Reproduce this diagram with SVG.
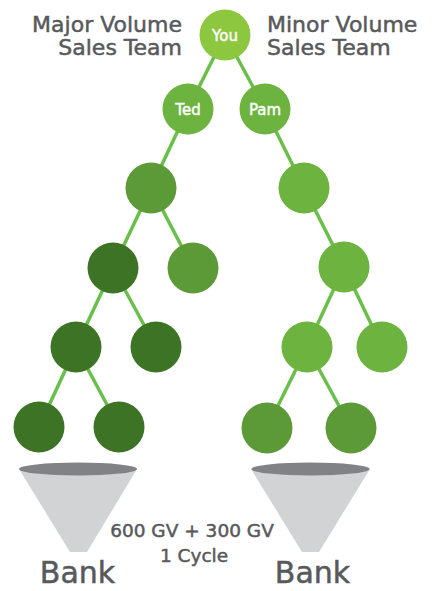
<svg xmlns="http://www.w3.org/2000/svg" width="433" height="591" viewBox="0 0 433 591">
<style>
.lbl{font-family:"DejaVu Sans","Liberation Sans",sans-serif;fill:#58595b;stroke:#58595b;stroke-width:0.5}
.nt{font-family:"DejaVu Sans","Liberation Sans",sans-serif;fill:#fff;stroke:#fff;stroke-width:0.45;font-size:15px;text-anchor:middle}
.edge{stroke:#6abf4b;stroke-width:3.5;fill:none}
.c0{fill:#8dc63f}.c1{fill:#6db33f}.c2{fill:#5c9937}.c3{fill:#3d7325}
.cone{fill:#d1d3d4}.rim{fill:#808285}
</style>
<rect width="433" height="591" fill="#fff"/>
<g id="headers">
<text class="lbl" x="182" y="32" font-size="22" text-anchor="end">Major Volume</text>
<text class="lbl" x="182" y="55" font-size="22" text-anchor="end">Sales Team</text>
<text class="lbl" x="267" y="32" font-size="22">Minor Volume</text>
<text class="lbl" x="267" y="55" font-size="22">Sales Team</text>
</g>
<g id="connectors">
<line class="edge" x1="225" y1="35" x2="188" y2="109"/>
<line class="edge" x1="225" y1="35" x2="265" y2="109"/>
<line class="edge" x1="188" y1="109" x2="151" y2="188"/>
<line class="edge" x1="265" y1="109" x2="304" y2="188"/>
<line class="edge" x1="151" y1="188" x2="113" y2="268"/>
<line class="edge" x1="151" y1="188" x2="193" y2="268"/>
<line class="edge" x1="304" y1="188" x2="344" y2="267"/>
<line class="edge" x1="113" y1="268" x2="76" y2="347"/>
<line class="edge" x1="113" y1="268" x2="156" y2="347"/>
<line class="edge" x1="344" y1="267" x2="307" y2="347"/>
<line class="edge" x1="344" y1="267" x2="382" y2="347"/>
<line class="edge" x1="76" y1="347" x2="39" y2="427"/>
<line class="edge" x1="76" y1="347" x2="119" y2="427"/>
<line class="edge" x1="307" y1="347" x2="267" y2="428"/>
<line class="edge" x1="307" y1="347" x2="351" y2="428"/>
</g>
<g id="n-you"><circle class="c0" cx="225" cy="35" r="25.5"/><text class="nt" x="225" y="40.5">You</text></g>
<g id="n-ted"><circle class="c1" cx="188" cy="109" r="25.5"/><text class="nt" x="188" y="114.5">Ted</text></g>
<g id="n-pam"><circle class="c1" cx="265" cy="109" r="25.5"/><text class="nt" x="265" y="114.5">Pam</text></g>
<g id="n-l3a"><circle class="c2" cx="151" cy="188" r="25.5"/></g>
<g id="n-r3a"><circle class="c1" cx="304" cy="188" r="25.5"/></g>
<g id="n-l4a"><circle class="c3" cx="113" cy="268" r="25.5"/></g>
<g id="n-l4b"><circle class="c2" cx="193" cy="268" r="25.5"/></g>
<g id="n-r4a"><circle class="c1" cx="344" cy="267" r="25.5"/></g>
<g id="n-l5a"><circle class="c3" cx="76" cy="347" r="25.5"/></g>
<g id="n-l5b"><circle class="c3" cx="156" cy="347" r="25.5"/></g>
<g id="n-r5a"><circle class="c1" cx="307" cy="347" r="25.5"/></g>
<g id="n-r5b"><circle class="c1" cx="382" cy="347" r="25.5"/></g>
<g id="n-l6a"><circle class="c3" cx="39" cy="427" r="25.5"/></g>
<g id="n-l6b"><circle class="c3" cx="119" cy="427" r="25.5"/></g>
<g id="n-r6a"><circle class="c2" cx="267" cy="428" r="25.5"/></g>
<g id="n-r6b"><circle class="c2" cx="351" cy="428" r="25.5"/></g>
<g id="bank-left">
<polygon class="cone" points="19,469 137,469 87,552 70,552"/>
<ellipse class="rim" cx="78" cy="469" rx="59" ry="6.5"/>
<text class="lbl" x="77.5" y="583" font-size="30" text-anchor="middle">Bank</text>
</g>
<g id="bank-right">
<polygon class="cone" points="251,469 370,469 319,552 302,552"/>
<ellipse class="rim" cx="310.5" cy="469" rx="59" ry="6.5"/>
<text class="lbl" x="312.5" y="583" font-size="30" text-anchor="middle">Bank</text>
</g>
<g id="summary">
<text class="lbl" x="192" y="537" font-size="18.5" text-anchor="middle">600 GV + 300 GV</text>
<text class="lbl" x="194" y="562" font-size="18.5" text-anchor="middle">1 Cycle</text>
</g>
</svg>
